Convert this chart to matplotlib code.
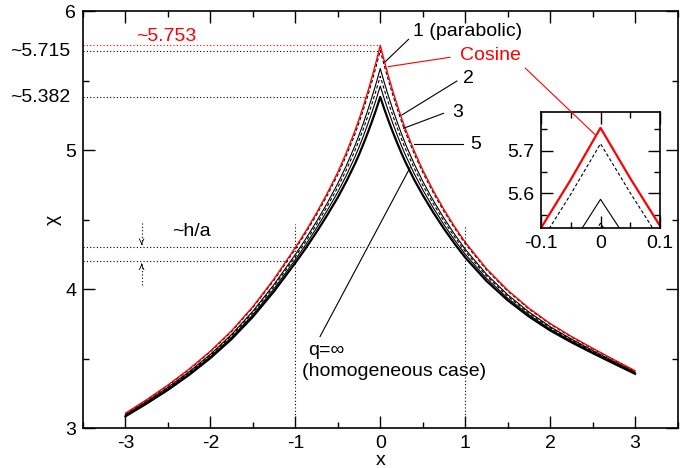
import numpy as np
import matplotlib
matplotlib.use('Agg')
import matplotlib.pyplot as plt
from matplotlib.patches import ConnectionPatch
from matplotlib.ticker import MultipleLocator

plt.rcParams['font.family'] = ['Liberation Sans', 'DejaVu Sans']
plt.rcParams['font.size'] = 14
plt.rcParams['axes.unicode_minus'] = False

# sample positions along x
x = [-3, -2.75, -2.5, -2.25, -2, -1.75, -1.5, -1.25, -1, -0.875, -0.75, -0.625,
     -0.5, -0.4, -0.3, -0.25, -0.2, -0.15, -0.1, -0.05, 0,
     0.05, 0.1, 0.15, 0.2, 0.25, 0.3, 0.4, 0.5, 0.625, 0.75, 0.875,
     1, 1.25, 1.5, 1.75, 2, 2.25, 2.5, 2.75, 3]

# chi(x), one list per curve
chi_cos = [3.106, 3.204, 3.309, 3.424, 3.553, 3.700, 3.873, 4.073, 4.298, 4.418, 4.548, 4.688,
           4.840, 4.980, 5.135, 5.221, 5.314, 5.413, 5.519, 5.632, 5.753,
           5.635, 5.524, 5.420, 5.323, 5.231, 5.146, 4.993, 4.857, 4.707, 4.572, 4.449,
           4.337, 4.147, 3.992, 3.862, 3.752, 3.659, 3.574, 3.492, 3.412]
chi_q1 = [3.104, 3.201, 3.305, 3.420, 3.548, 3.694, 3.866, 4.064, 4.287, 4.406, 4.534, 4.672,
          4.822, 4.959, 5.111, 5.196, 5.287, 5.384, 5.487, 5.598, 5.716,
          5.601, 5.492, 5.391, 5.296, 5.206, 5.122, 4.972, 4.839, 4.691, 4.558, 4.437,
          4.326, 4.138, 3.985, 3.856, 3.747, 3.655, 3.570, 3.489, 3.410]
chi_q2 = [3.096, 3.191, 3.293, 3.405, 3.530, 3.673, 3.840, 4.033, 4.248, 4.363, 4.486, 4.617,
          4.759, 4.887, 5.028, 5.107, 5.191, 5.281, 5.376, 5.477, 5.586,
          5.480, 5.381, 5.288, 5.200, 5.117, 5.039, 4.900, 4.776, 4.636, 4.510, 4.394,
          4.287, 4.107, 3.959, 3.835, 3.729, 3.640, 3.558, 3.479, 3.402]
chi_q3 = [3.093, 3.187, 3.288, 3.399, 3.523, 3.664, 3.829, 4.020, 4.232, 4.344, 4.465, 4.594,
          4.731, 4.856, 4.993, 5.069, 5.150, 5.237, 5.328, 5.426, 5.530,
          5.429, 5.333, 5.244, 5.159, 5.079, 5.004, 4.869, 4.748, 4.613, 4.489, 4.375,
          4.271, 4.094, 3.948, 3.826, 3.722, 3.634, 3.553, 3.475, 3.399]
chi_q5 = [3.089, 3.182, 3.281, 3.391, 3.513, 3.653, 3.815, 4.003, 4.211, 4.321, 4.439, 4.564,
          4.697, 4.816, 4.948, 5.020, 5.098, 5.181, 5.268, 5.360, 5.460,
          5.363, 5.273, 5.188, 5.107, 5.030, 4.959, 4.829, 4.714, 4.583, 4.463, 4.352,
          4.250, 4.077, 3.934, 3.815, 3.712, 3.626, 3.546, 3.470, 3.395]
chi_inf = [3.084, 3.176, 3.274, 3.382, 3.503, 3.640, 3.800, 3.984, 4.188, 4.295, 4.410, 4.531,
           4.659, 4.773, 4.898, 4.967, 5.041, 5.119, 5.201, 5.288, 5.382,
           5.291, 5.206, 5.126, 5.050, 4.977, 4.909, 4.786, 4.676, 4.550, 4.434, 4.326,
           4.227, 4.058, 3.919, 3.802, 3.702, 3.617, 3.539, 3.464, 3.390]

peak_cos = 5.753
peak_q1 = 5.715
peak_inf = 5.382

fig = plt.figure(figsize=(6.92, 4.68), dpi=100)
ax = fig.add_axes([83/692, 1-428/468, 594.5/692, 417/468])

dot = (0, (1, 2))

# guide lines
ax.plot([-3.5, 0], [peak_cos, peak_cos], color='red', ls=dot, lw=0.8)
ax.plot([-3.5, -0.02], [peak_q1, peak_q1], color='k', ls=dot, lw=0.8)
ax.plot([-3.5, -0.17], [peak_inf, peak_inf], color='k', ls=dot, lw=0.8)
ax.plot([-3.5, 1], [4.30, 4.30], color='k', ls=dot, lw=0.8)
ax.plot([-3.5, -1], [4.20, 4.20], color='k', ls=dot, lw=0.8)
ax.plot([-1, -1], [3, 4.47], color='k', ls=dot, lw=0.8)
ax.plot([1, 1], [3, 4.46], color='k', ls=dot, lw=0.8)

# h/a arrows
ax.plot([-2.81, -2.81], [4.475, 4.31], color='k', ls=dot, lw=0.8)
ax.plot([-2.81, -2.81], [4.03, 4.19], color='k', ls=dot, lw=0.8)
ax.annotate('', xy=(-2.81, 4.30), xytext=(-2.81, 4.34),
            arrowprops=dict(arrowstyle='->,head_length=0.25,head_width=0.12', lw=0.6, color='k'))
ax.annotate('', xy=(-2.81, 4.20), xytext=(-2.81, 4.16),
            arrowprops=dict(arrowstyle='->,head_length=0.25,head_width=0.12', lw=0.6, color='k'))

# curves
ax.plot(x, chi_inf, color='k', lw=1.6)
ax.plot(x, chi_q5, color='k', lw=0.8)
ax.plot(x, chi_q3, color='k', lw=0.8, ls=(0, (3, 2)))
ax.plot(x, chi_q2, color='k', lw=0.8)
ax.plot(x, chi_q1, color='k', lw=0.8, ls=(0, (3, 2)))
ax.plot(x, chi_cos, color='red', lw=1.0)

# leader lines
ax.plot([0.059, 0.333], [5.635, 5.796], color='k', lw=0.8)
ax.plot([0.098, 0.82], [5.60, 5.667], color='red', lw=0.8)
ax.plot([0.255, 0.902], [5.252, 5.496], color='k', lw=0.8)
ax.plot([0.274, 0.745], [5.156, 5.264], color='k', lw=0.8)
ax.plot([0.392, 0.98], [5.043, 5.043], color='k', lw=0.8)
ax.plot([-0.709, 0.350], [3.658, 4.872], color='k', lw=0.8)

# labels
ax.text(0.39, 5.856, '1 (parabolic)', ha='left', va='center')
ax.text(0.94, 5.683, 'Cosine', ha='left', va='center', color='red')
ax.text(1.035, 5.511, '2', ha='center', va='center')
ax.text(0.906, 5.273, '3', ha='center', va='center')
ax.text(1.118, 5.036, '5', ha='center', va='center')
ax.text(-0.85, 3.561, 'q=∞', ha='left', va='center')
ax.text(-0.92, 3.41, '(homogeneous case)', ha='left', va='center')
ax.text(-2.45, 4.417, '~h/a', ha='left', va='center')
ax.text(-2.88, 5.813, '~5.753', ha='left', va='center', color='red')
ax.text(-3.65, 5.712, '~5.715', ha='right', va='center', clip_on=False)
ax.text(-3.65, 5.381, '~5.382', ha='right', va='center', clip_on=False)

ax.set_xlim(-3.5, 3.5)
ax.set_ylim(3, 6)
ax.xaxis.set_major_locator(MultipleLocator(1))
ax.xaxis.set_minor_locator(MultipleLocator(0.5))
ax.yaxis.set_major_locator(MultipleLocator(1))
ax.yaxis.set_minor_locator(MultipleLocator(0.5))
ax.tick_params(which='both', direction='in', top=True, right=True, width=1)
ax.tick_params(which='major', length=8.3, pad=5)
ax.tick_params(which='minor', length=4.3)
for s in ax.spines.values():
    s.set_linewidth(1.2)
ax.set_xlabel('x', labelpad=0)
ax.text(-0.05, 0.5, 'χ', transform=ax.transAxes, rotation=90, ha='center', va='center')

# inset
axins = fig.add_axes([541/692, 1-228/468, 119/692, 116/468])
axins.plot(x, chi_q3, color='k', lw=0.8, ls=(0, (3, 2)))
axins.plot(x, chi_q2, color='k', lw=0.8)
axins.plot(x, chi_q1, color='k', lw=0.8, ls=(0, (3, 2)))
axins.plot(x, chi_cos, color='red', lw=1.6)
axins.set_xlim(-0.1, 0.1)
axins.set_ylim(5.519, 5.79)
axins.set_xticks([-0.1, 0, 0.1])
axins.set_xticklabels(['-0.1', '0', '0.1'])
axins.xaxis.set_minor_locator(MultipleLocator(0.05))
axins.set_yticks([5.6, 5.7])
axins.yaxis.set_minor_locator(MultipleLocator(0.05))
axins.tick_params(which='both', direction='in', top=True, right=True, width=1)
axins.tick_params(which='major', length=8.3, pad=5)
axins.tick_params(which='minor', length=4.3)
for s in axins.spines.values():
    s.set_linewidth(1.2)

con = ConnectionPatch(xyA=(1.706, 5.59), coordsA=ax.transData,
                      xyB=(-0.009, 5.737), coordsB=axins.transData,
                      color='red', lw=0.8)
fig.add_artist(con)

fig.savefig('out.png', dpi=100)
